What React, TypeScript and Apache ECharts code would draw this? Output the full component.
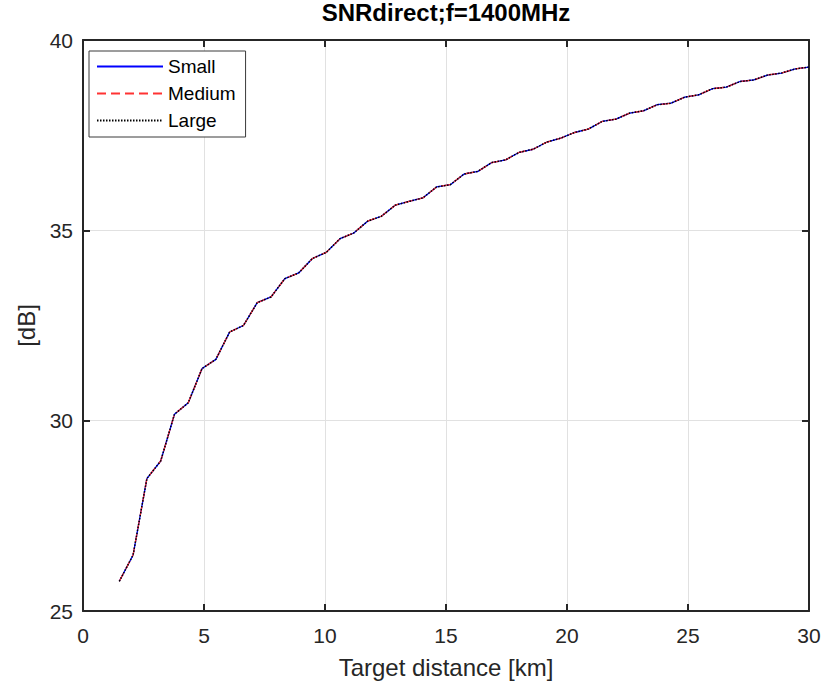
import React, { useEffect, useRef } from "react";
import * as echarts from "echarts";

const distanceKm = [
  1.5, 2.07, 2.64, 3.21, 3.78, 4.35, 4.92, 5.49, 6.06, 6.63, 7.2, 7.77, 8.34, 8.91, 9.48, 10.05, 10.62,
  11.19, 11.76, 12.33, 12.9, 13.47, 14.04, 14.61, 15.18, 15.75, 16.32, 16.89, 17.46, 18.03, 18.6, 19.17,
  19.74, 20.31, 20.88, 21.45, 22.02, 22.59, 23.16, 23.73, 24.3, 24.87, 25.44, 26.01, 26.58, 27.15, 27.72,
  28.29, 28.86, 29.43, 30.0,
];

const snrSmall = [
  25.78, 26.47, 28.48, 28.94, 30.17, 30.47, 31.37, 31.61, 32.33, 32.5, 33.1, 33.25, 33.73, 33.88, 34.26,
  34.42, 34.78, 34.93, 35.24, 35.37, 35.66, 35.76, 35.85, 36.14, 36.2, 36.48, 36.55, 36.78, 36.85, 37.05,
  37.13, 37.32, 37.42, 37.57, 37.66, 37.86, 37.92, 38.08, 38.14, 38.3, 38.34, 38.5, 38.56, 38.72, 38.76,
  38.91, 38.95, 39.08, 39.13, 39.24, 39.29,
];

const snrMedium = [
  25.78, 26.47, 28.48, 28.94, 30.17, 30.47, 31.37, 31.61, 32.33, 32.5, 33.1, 33.25, 33.73, 33.88, 34.26,
  34.42, 34.78, 34.93, 35.24, 35.37, 35.66, 35.76, 35.85, 36.14, 36.2, 36.48, 36.55, 36.78, 36.85, 37.05,
  37.13, 37.32, 37.42, 37.57, 37.66, 37.86, 37.92, 38.08, 38.14, 38.3, 38.34, 38.5, 38.56, 38.72, 38.76,
  38.91, 38.95, 39.08, 39.13, 39.24, 39.29,
];

const snrLarge = [
  25.78, 26.47, 28.48, 28.94, 30.17, 30.47, 31.37, 31.61, 32.33, 32.5, 33.1, 33.25, 33.73, 33.88, 34.26,
  34.42, 34.78, 34.93, 35.24, 35.37, 35.66, 35.76, 35.85, 36.14, 36.2, 36.48, 36.55, 36.78, 36.85, 37.05,
  37.13, 37.32, 37.42, 37.57, 37.66, 37.86, 37.92, 38.08, 38.14, 38.3, 38.34, 38.5, 38.56, 38.72, 38.76,
  38.91, 38.95, 39.08, 39.13, 39.24, 39.29,
];

const seriesNames = ["Small", "Medium", "Large"];
const titleText = "SNRdirect;f=1400MHz";
const xLabel = "Target distance [km]";
const yLabel = "[dB]";

const FONT = "'Liberation Sans', Arial, Helvetica, sans-serif";
const AXIS_COLOR = "#262626";

export default function App() {
  const ref = useRef<HTMLDivElement>(null);

  useEffect(() => {
    if (!ref.current) return;
    const chart = echarts.init(ref.current, undefined, { renderer: "svg" });

    const pairs = (ys: number[]) => distanceKm.map((d, i) => [d, ys[i]]);

    const baseX = {
      type: "value" as const,
      min: 0,
      max: 30,
      interval: 5,
    };
    const baseY = {
      type: "value" as const,
      min: 25,
      max: 40,
      interval: 5,
    };
    const axisLine = { show: true, onZero: false, lineStyle: { color: AXIS_COLOR, width: 2 } };
    const axisTick = { show: true, inside: true, length: 7, lineStyle: { color: AXIS_COLOR, width: 2 } };

    chart.setOption({
      animation: false,
      backgroundColor: "#ffffff",
      textStyle: { fontFamily: FONT },
      grid: { left: 83, right: 15, top: 40, bottom: 72, containLabel: false },
      graphic: [
        {
          type: "text",
          x: 446,
          y: 12.5,
          style: {
            text: titleText,
            font: `bold 24px ${FONT}`,
            fill: "#000000",
            textAlign: "center",
            textVerticalAlign: "middle",
          },
        },
      ],
      legend: {
        show: true,
        orient: "vertical",
        left: 89,
        top: 51,
        data: seriesNames,
        itemWidth: 66,
        itemHeight: 14,
        itemGap: 8,
        padding: [6, 10, 7, 7],
        backgroundColor: "#ffffff",
        borderColor: "#3a3a3a",
        borderWidth: 1,
        borderRadius: 0,
        itemStyle: { color: "rgba(0,0,0,0)", borderWidth: 0, opacity: 0 },
        textStyle: { fontSize: 19, color: "#000000", fontFamily: FONT, padding: [0, 0, 0, 0] },
      },
      xAxis: [
        {
          ...baseX,
          position: "bottom",
          name: xLabel,
          nameLocation: "middle",
          nameGap: 44,
          nameTextStyle: { fontSize: 24, color: AXIS_COLOR, fontFamily: FONT },
          axisLine,
          axisTick,
          axisLabel: { show: true, margin: 14, fontSize: 21, color: AXIS_COLOR, fontFamily: FONT },
          splitLine: { show: true, lineStyle: { color: "#e1e1e1", width: 1 } },
        },
        {
          ...baseX,
          position: "top",
          axisLine,
          axisTick,
          axisLabel: { show: false },
          splitLine: { show: false },
        },
      ],
      yAxis: [
        {
          ...baseY,
          position: "left",
          name: yLabel,
          nameLocation: "middle",
          nameGap: 44,
          nameTextStyle: { fontSize: 24, color: AXIS_COLOR, fontFamily: FONT },
          axisLine,
          axisTick,
          axisLabel: { show: true, margin: 10, fontSize: 21, color: AXIS_COLOR, fontFamily: FONT },
          splitLine: { show: true, lineStyle: { color: "#e1e1e1", width: 1 } },
        },
        {
          ...baseY,
          position: "right",
          axisLine,
          axisTick,
          axisLabel: { show: false },
          splitLine: { show: false },
        },
      ],
      series: [
        {
          name: seriesNames[0],
          type: "line",
          data: pairs(snrSmall),
          symbol: "none",
          showSymbol: false,
          clip: true,
          lineStyle: { color: "#0000ff", width: 1.3, type: "solid" },
          itemStyle: { color: "#0000ff" },
          z: 2,
        },
        {
          name: seriesNames[1],
          type: "line",
          data: pairs(snrMedium),
          symbol: "none",
          showSymbol: false,
          clip: true,
          lineStyle: { color: "#ff3333", width: 1.3, type: [9, 5] },
          itemStyle: { color: "#ff3333" },
          z: 3,
        },
        {
          name: seriesNames[2],
          type: "line",
          data: pairs(snrLarge),
          symbol: "none",
          showSymbol: false,
          clip: true,
          lineStyle: { color: "#000000", width: 1.5, type: [1.5, 1.5] },
          itemStyle: { color: "#000000" },
          z: 4,
        },
      ],
    });

    return () => {
      chart.dispose();
    };
  }, []);

  return (
    <div
      ref={ref}
      style={{ position: "fixed", left: 0, top: 0, width: 824, height: 684, background: "#ffffff" }}
    />
  );
}
